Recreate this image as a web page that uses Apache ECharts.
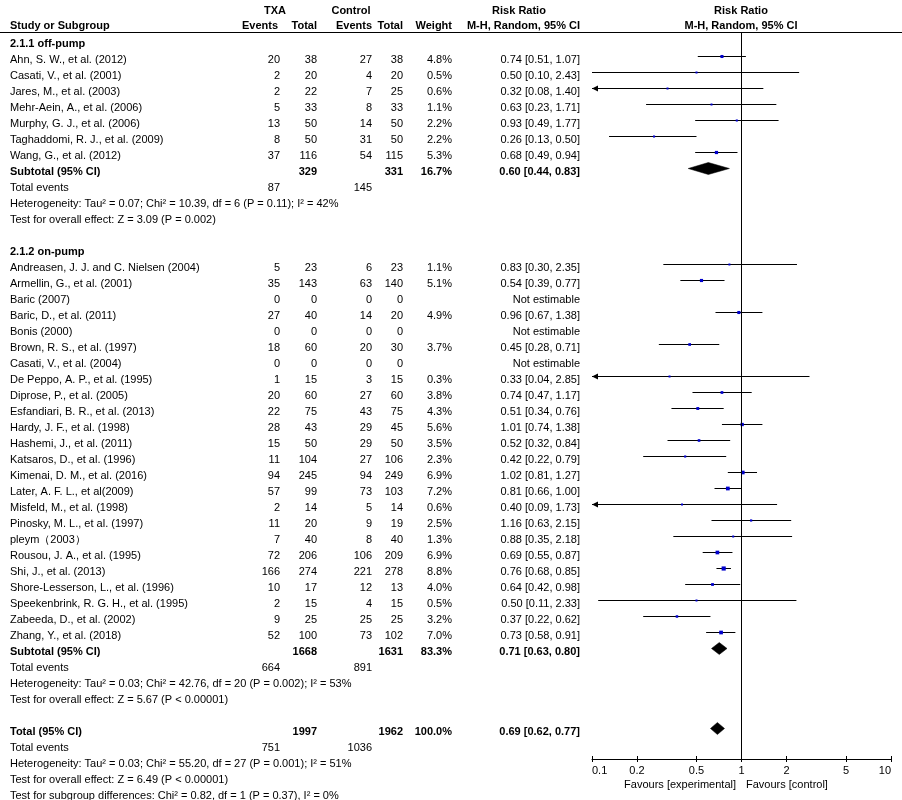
<!DOCTYPE html>
<html><head><meta charset="utf-8">
<script src="https://cdn.jsdelivr.net/npm/echarts@6/dist/echarts.min.js"></script>
<style>html,body{margin:0;padding:0;background:#fff}#c{width:902px;height:800px}</style>
</head><body><div id="c"></div>
<script>
// ---------------- data ----------------
const groupTitles = ["2.1.1 off-pump", "2.1.2 on-pump"];

const offStudies = ["Ahn, S. W., et al. (2012)", "Casati, V., et al. (2001)", "Jares, M., et al. (2003)", "Mehr-Aein, A., et al. (2006)", "Murphy, G. J., et al. (2006)", "Taghaddomi, R. J., et al. (2009)", "Wang, G., et al. (2012)"];
const offTxaEvents = [20, 2, 2, 5, 13, 8, 37];
const offTxaTotal = [38, 20, 22, 33, 50, 50, 116];
const offCtlEvents = [27, 4, 7, 8, 14, 31, 54];
const offCtlTotal = [38, 20, 25, 33, 50, 50, 115];
const offWeight = [4.8, 0.5, 0.6, 1.1, 2.2, 2.2, 5.3];
const offRR = [0.74, 0.50, 0.32, 0.63, 0.93, 0.26, 0.68];
const offLow = [0.51, 0.10, 0.08, 0.23, 0.49, 0.13, 0.49];
const offHigh = [1.07, 2.43, 1.40, 1.71, 1.77, 0.50, 0.94];

const onStudies = ["Andreasen, J. J. and C. Nielsen (2004)", "Armellin, G., et al. (2001)", "Baric (2007)", "Baric, D., et al. (2011)", "Bonis (2000)", "Brown, R. S., et al. (1997)", "Casati, V., et al. (2004)", "De Peppo, A. P., et al. (1995)", "Diprose, P., et al. (2005)", "Esfandiari, B. R., et al. (2013)", "Hardy, J. F., et al. (1998)", "Hashemi, J., et al. (2011)", "Katsaros, D., et al. (1996)", "Kimenai, D. M., et al. (2016)", "Later, A. F. L., et al(2009)", "Misfeld, M., et al. (1998)", "Pinosky, M. L., et al. (1997)", "pleym（2003）", "Rousou, J. A., et al. (1995)", "Shi, J., et al. (2013)", "Shore-Lesserson, L., et al. (1996)", "Speekenbrink, R. G. H., et al. (1995)", "Zabeeda, D., et al. (2002)", "Zhang, Y., et al. (2018)"];
const onTxaEvents = [5, 35, 0, 27, 0, 18, 0, 1, 20, 22, 28, 15, 11, 94, 57, 2, 11, 7, 72, 166, 10, 2, 9, 52];
const onTxaTotal = [23, 143, 0, 40, 0, 60, 0, 15, 60, 75, 43, 50, 104, 245, 99, 14, 20, 40, 206, 274, 17, 15, 25, 100];
const onCtlEvents = [6, 63, 0, 14, 0, 20, 0, 3, 27, 43, 29, 29, 27, 94, 73, 5, 9, 8, 106, 221, 12, 4, 25, 73];
const onCtlTotal = [23, 140, 0, 20, 0, 30, 0, 15, 60, 75, 45, 50, 106, 249, 103, 14, 19, 40, 209, 278, 13, 15, 25, 102];
const onWeight = [1.1, 5.1, null, 4.9, null, 3.7, null, 0.3, 3.8, 4.3, 5.6, 3.5, 2.3, 6.9, 7.2, 0.6, 2.5, 1.3, 6.9, 8.8, 4.0, 0.5, 3.2, 7.0];
const onRR = [0.83, 0.54, null, 0.96, null, 0.45, null, 0.33, 0.74, 0.51, 1.01, 0.52, 0.42, 1.02, 0.81, 0.40, 1.16, 0.88, 0.69, 0.76, 0.64, 0.50, 0.37, 0.73];
const onLow = [0.30, 0.39, null, 0.67, null, 0.28, null, 0.04, 0.47, 0.34, 0.74, 0.32, 0.22, 0.81, 0.66, 0.09, 0.63, 0.35, 0.55, 0.68, 0.42, 0.11, 0.22, 0.58];
const onHigh = [2.35, 0.77, null, 1.38, null, 0.71, null, 2.85, 1.17, 0.76, 1.38, 0.84, 0.79, 1.27, 1.00, 1.73, 2.15, 2.18, 0.87, 0.85, 0.98, 2.33, 0.62, 0.91];

const subTxaTotal = [329, 1668];
const subCtlTotal = [331, 1631];
const subWeight = [16.7, 83.3];
const subRR = [0.60, 0.71];
const subLow = [0.44, 0.63];
const subHigh = [0.83, 0.80];
const subTxaEvents = [87, 664];
const subCtlEvents = [145, 891];
const subHet = ["Heterogeneity: Tau² = 0.07; Chi² = 10.39, df = 6 (P = 0.11); I² = 42%", "Heterogeneity: Tau² = 0.03; Chi² = 42.76, df = 20 (P = 0.002); I² = 53%"];
const subTest = ["Test for overall effect: Z = 3.09 (P = 0.002)", "Test for overall effect: Z = 5.67 (P < 0.00001)"];

const totalTxaTotal = [1997];
const totalCtlTotal = [1962];
const totalWeight = [100.0];
const totalRR = [0.69];
const totalLow = [0.62];
const totalHigh = [0.77];
const totalTxaEvents = [751];
const totalCtlEvents = [1036];
const totalHet = ["Heterogeneity: Tau² = 0.03; Chi² = 55.20, df = 27 (P = 0.001); I² = 51%"];
const totalTest = ["Test for overall effect: Z = 6.49 (P < 0.00001)"];
const subgroupDiff = ["Test for subgroup differences: Chi² = 0.82, df = 1 (P = 0.37), I² = 0%"];

const tickValues = [0.1, 0.2, 0.5, 1, 2, 5, 10];
const tickLabels = ["0.1", "0.2", "0.5", "1", "2", "5", "10"];

// ---------------- layout / style ----------------
const FONT = '"Liberation Sans", Arial, Helvetica, sans-serif';
const FS = 11;
const COL = { name: 10, txaE: 280, txaT: 317, ctlE: 372, ctlT: 403, w: 452, rr: 580 };
const ROW0 = 40.5, ROWH = 16, TEXT_DY = 3.5;
const PLOT_TOP = 33, PLOT_BOTTOM = 759, PLOT_LEFT = 592, PLOT_RIGHT = 891;
const XMIN = 0.1, XMAX = 10;

// ---------------- build rows ----------------
const textItems = [];
const plotItems = [];
let row = 0;
function t(x, r, text, align, bold) { textItems.push({ x, r, text: String(text), align, bold: !!bold }); }
const fmtRR = (rr, lo, hi) => rr == null ? "Not estimable" : `${rr.toFixed(2)} [${lo.toFixed(2)}, ${hi.toFixed(2)}]`;
const fmtW = (w) => w == null ? "" : w.toFixed(1) + "%";

const groups = [
  { names: offStudies, te: offTxaEvents, tt: offTxaTotal, ce: offCtlEvents, ct: offCtlTotal, w: offWeight, rr: offRR, lo: offLow, hi: offHigh },
  { names: onStudies, te: onTxaEvents, tt: onTxaTotal, ce: onCtlEvents, ct: onCtlTotal, w: onWeight, rr: onRR, lo: onLow, hi: onHigh }
];
groups.forEach((g, gi) => {
  t(COL.name, row, groupTitles[gi], 'left', true); row++;
  g.names.forEach((n, i) => {
    t(COL.name, row, n, 'left');
    t(COL.txaE, row, g.te[i], 'right');
    t(COL.txaT, row, g.tt[i], 'right');
    t(COL.ctlE, row, g.ce[i], 'right');
    t(COL.ctlT, row, g.ct[i], 'right');
    if (g.w[i] != null) t(COL.w, row, fmtW(g.w[i]), 'right');
    t(COL.rr, row, fmtRR(g.rr[i], g.lo[i], g.hi[i]), 'right');
    if (g.rr[i] != null) plotItems.push({ kind: 'study', r: row, rr: g.rr[i], lo: g.lo[i], hi: g.hi[i], w: g.w[i] });
    row++;
  });
  t(COL.name, row, "Subtotal (95% CI)", 'left', true);
  t(COL.txaT, row, subTxaTotal[gi], 'right', true);
  t(COL.ctlT, row, subCtlTotal[gi], 'right', true);
  t(COL.w, row, fmtW(subWeight[gi]), 'right', true);
  t(COL.rr, row, fmtRR(subRR[gi], subLow[gi], subHigh[gi]), 'right', true);
  plotItems.push({ kind: 'diamond', r: row, rr: subRR[gi], lo: subLow[gi], hi: subHigh[gi] });
  row++;
  t(COL.name, row, "Total events", 'left');
  t(COL.txaE, row, subTxaEvents[gi], 'right');
  t(COL.ctlE, row, subCtlEvents[gi], 'right');
  row++;
  t(COL.name, row, subHet[gi], 'left'); row++;
  t(COL.name, row, subTest[gi], 'left'); row++;
  row++; // blank
});
t(COL.name, row, "Total (95% CI)", 'left', true);
t(COL.txaT, row, totalTxaTotal[0], 'right', true);
t(COL.ctlT, row, totalCtlTotal[0], 'right', true);
t(COL.w, row, fmtW(totalWeight[0]), 'right', true);
t(COL.rr, row, fmtRR(totalRR[0], totalLow[0], totalHigh[0]), 'right', true);
plotItems.push({ kind: 'diamond', r: row, rr: totalRR[0], lo: totalLow[0], hi: totalHigh[0] });
row++;
t(COL.name, row, "Total events", 'left');
t(COL.txaE, row, totalTxaEvents[0], 'right');
t(COL.ctlE, row, totalCtlEvents[0], 'right');
row++;
t(COL.name, row, totalHet[0], 'left'); row++;
t(COL.name, row, totalTest[0], 'left'); row++;
t(COL.name, row, subgroupDiff[0], 'left'); row++;

// axis ranges in row units so that row r sits at ROW0 + r*ROWH px
const plotYMin = (PLOT_TOP - ROW0) / ROWH, plotYMax = (PLOT_BOTTOM - ROW0) / ROWH;
const tabYMin = (0 - ROW0) / ROWH, tabYMax = (800 - ROW0) / ROWH;

const tickFmt = (v) => {
  let best = 0, bd = Infinity;
  tickValues.forEach((tv, i) => { const d = Math.abs(Math.log10(v) - Math.log10(tv)); if (d < bd) { bd = d; best = i; } });
  return tickLabels[best];
};

function txt(x, y, text, align, bold) {
  return { type: 'text', x, y, silent: true, style: { text, align, verticalAlign: 'middle', fontSize: FS, fontWeight: bold ? 'bold' : 'normal', fontFamily: FONT, fill: '#000' } };
}

const chart = echarts.init(document.getElementById('c'), null, { renderer: 'canvas' });
chart.setOption({
  animation: false,
  backgroundColor: '#fff',
  grid: [
    { left: PLOT_LEFT, width: PLOT_RIGHT - PLOT_LEFT, top: PLOT_TOP, height: PLOT_BOTTOM - PLOT_TOP, containLabel: false },
    { left: 0, width: 902, top: 0, height: 800, containLabel: false }
  ],
  xAxis: [
    {
      type: 'log', logBase: 10, gridIndex: 0, min: XMIN, max: XMAX, position: 'bottom',
      axisLine: { show: true, onZero: false, lineStyle: { color: '#000', width: 1 } },
      axisTick: { show: true, customValues: tickValues, length: 3, lineStyle: { color: '#000', width: 1 } },
      axisLabel: { show: true, customValues: tickValues, formatter: tickFmt, color: '#000', fontSize: FS, fontFamily: FONT, margin: 6, alignMinLabel: 'left', alignMaxLabel: 'right' },
      splitLine: { show: false }, minorTick: { show: false }
    },
    {
      type: 'log', logBase: 10, gridIndex: 0, min: XMIN, max: XMAX, position: 'bottom', offset: 0,
      axisLine: { show: false, onZero: false },
      axisTick: { show: true, inside: true, customValues: tickValues, length: 3, lineStyle: { color: '#000', width: 1 } },
      axisLabel: { show: false }, splitLine: { show: false }
    },
    { type: 'value', gridIndex: 1, min: 0, max: 902, show: false, splitLine: { show: false } }
  ],
  yAxis: [
    { type: 'value', gridIndex: 0, inverse: true, min: plotYMin, max: plotYMax, show: false, splitLine: { show: false } },
    { type: 'value', gridIndex: 1, inverse: true, min: tabYMin, max: tabYMax, show: false, splitLine: { show: false } }
  ],
  graphic: [
    { type: 'line', silent: true, shape: { x1: 0, y1: 32.5, x2: 902, y2: 32.5 }, style: { stroke: '#000', lineWidth: 1 } },
    txt(275, 10.5, 'TXA', 'center', true),
    txt(351, 10.5, 'Control', 'center', true),
    txt(519, 10.5, 'Risk Ratio', 'center', true),
    txt(741, 10.5, 'Risk Ratio', 'center', true),
    txt(COL.name, 25.5, 'Study or Subgroup', 'left', true),
    txt(COL.txaE - 2, 25.5, 'Events', 'right', true),
    txt(COL.txaT, 25.5, 'Total', 'right', true),
    txt(COL.ctlE, 25.5, 'Events', 'right', true),
    txt(COL.ctlT, 25.5, 'Total', 'right', true),
    txt(COL.w, 25.5, 'Weight', 'right', true),
    txt(COL.rr, 25.5, 'M-H, Random, 95% CI', 'right', true),
    txt(741, 25.5, 'M-H, Random, 95% CI', 'center', true),
    txt(736, 785, 'Favours [experimental]', 'right', false),
    txt(746, 785, 'Favours [control]', 'left', false)
  ],
  series: [
    {
      type: 'custom', xAxisIndex: 0, yAxisIndex: 0, silent: true,
      data: plotItems.map(p => [p.rr, p.r]),
      renderItem(params, api) {
        const it = plotItems[params.dataIndex];
        const y = api.coord([1, it.r])[1];
        const xl = api.coord([Math.max(it.lo, XMIN), it.r])[0];
        const xh = api.coord([Math.min(it.hi, XMAX), it.r])[0];
        const xc = api.coord([it.rr, it.r])[0];
        if (it.kind === 'diamond') {
          return { type: 'polygon', shape: { points: [[xl, y], [xc, y - 6], [xh, y], [xc, y + 6]] }, style: { fill: '#000', stroke: '#000', lineWidth: 0.5 } };
        }
        const children = [
          { type: 'line', shape: { x1: xl, y1: y, x2: xh, y2: y }, style: { stroke: '#000', lineWidth: 1 } }
        ];
        if (it.lo < XMIN) children.push({ type: 'polygon', shape: { points: [[xl, y], [xl + 6, y - 3], [xl + 6, y + 3]] }, style: { fill: '#000' } });
        if (it.hi > XMAX) children.push({ type: 'polygon', shape: { points: [[xh, y], [xh - 6, y - 3], [xh - 6, y + 3]] }, style: { fill: '#000' } });
        const s = Math.max(2, 1.4 * Math.sqrt(it.w));
        children.push({ type: 'rect', shape: { x: xc - s / 2, y: y - s / 2, width: s, height: s }, style: { fill: '#0000cc' } });
        return { type: 'group', children };
      },
      markLine: {
        silent: true, symbol: ['none', 'none'], label: { show: false },
        lineStyle: { color: '#000', width: 1, type: 'solid' },
        data: [{ xAxis: 1 }]
      },
      z: 3
    },
    {
      type: 'custom', xAxisIndex: 2, yAxisIndex: 1, silent: true,
      data: textItems.map(d => [d.x, d.r]),
      renderItem(params, api) {
        const it = textItems[params.dataIndex];
        const p = api.coord([it.x, it.r]);
        return { type: 'text', x: p[0], y: p[1] + TEXT_DY, style: { text: it.text, align: it.align, verticalAlign: 'middle', fontSize: FS, fontWeight: it.bold ? 'bold' : 'normal', fontFamily: FONT, fill: '#000' } };
      },
      z: 4
    }
  ]
});
</script>
</body></html>
